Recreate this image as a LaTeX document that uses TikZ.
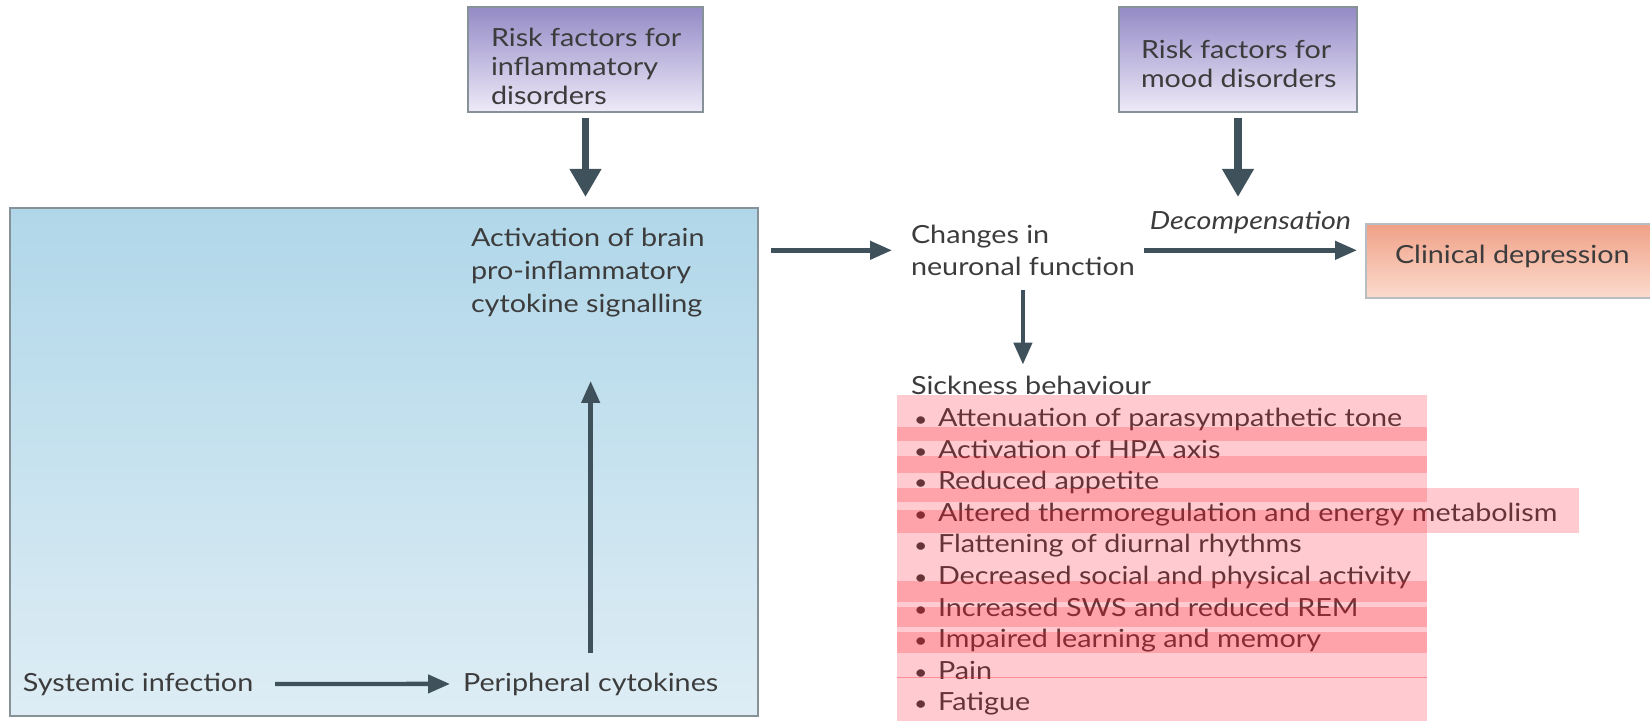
\documentclass[tikz,border=0pt]{standalone}
\usepackage{fontspec}
\setmainfont{Lato}[FakeStretch=1.15]
\usetikzlibrary{arrows.meta}
\definecolor{arrowc}{RGB}{63,82,92}
\definecolor{txt}{RGB}{60,60,60}
\definecolor{bluetop}{RGB}{176,215,233}
\definecolor{bluebot}{RGB}{222,237,245}
\definecolor{purtop}{RGB}{148,138,198}
\definecolor{purbot}{RGB}{238,234,248}
\definecolor{orgtop}{RGB}{240,160,134}
\definecolor{orgbot}{RGB}{251,220,207}
\definecolor{boxline}{RGB}{135,145,152}
\definecolor{hl}{RGB}{255,20,40}
\newcommand{\blt}{\makebox[12pt][l]{\scalebox{0.8}{\textbullet}}}
\begin{document}
\begin{tikzpicture}[x=0.5pt,y=-0.5pt,
  font=\fontsize{12.5}{16}\selectfont, text=txt,
  lbl/.style={inner sep=0pt, outer sep=0pt, anchor=north west, align=left},
  panel/.style={draw=boxline, line width=0.6pt, inner sep=0pt, outer sep=0pt},
  bigarr/.style={draw=arrowc, line width=3.6pt, -{Triangle[width=15pt,length=14pt]}},
  arr/.style={draw=arrowc, line width=2.2pt, -{Triangle[width=9pt,length=11pt]}},
  hlbox/.style={fill=hl, fill opacity=0.22, draw=none}]
\useasboundingbox (0,0) rectangle (1650,721);
% panels
\node (blue) [panel, top color=bluetop, bottom color=bluebot,
  minimum width=374pt, minimum height=254pt] at (384,462) {};
\node (rf1) [panel, top color=purtop, bottom color=purbot,
  minimum width=117.5pt, minimum height=52.5pt] at (585.5,59.5) {};
\node (rf2) [panel, top color=purtop, bottom color=purbot,
  minimum width=119pt, minimum height=52.5pt] at (1238,59.5) {};
\node (clin) [panel, draw=boxline!60, top color=orgtop, bottom color=orgbot,
  minimum width=143pt, minimum height=37pt] at (1509,261) {};
% texts
\node (rf1t) [lbl, font=\fontsize{12.5}{14.5}\selectfont] at (491,28) {Risk factors for\\inflammatory\\disorders};
\node (rf2t) [lbl, font=\fontsize{12.5}{14.5}\selectfont] at (1141,40) {Risk factors for\\mood disorders};
\node (clint) [lbl, anchor=west] at (1395,256) {Clinical depression};
\node (activ) [lbl, font=\fontsize{12.5}{16.5}\selectfont] at (471,228) {Activation of brain\\pro-inflammatory\\cytokine signalling};
\node (sys) [lbl, anchor=base west] at (23,691) {Systemic infection};
\node (periph) [lbl, anchor=base west] at (463,691) {Peripheral cytokines};
\node (changes) [lbl] at (911,225) {Changes in\\neuronal function};
\node (sick) [lbl, anchor=base west] at (911,395) {Sickness behaviour};
\node (list) [lbl, font=\fontsize{12.5}{15.8}\selectfont] at (914,408) {%
\blt Attenuation of parasympathetic tone\\
\blt Activation of HPA axis\\
\blt Reduced appetite\\
\blt Altered thermoregulation and energy metabolism\\
\blt Flattening of diurnal rhythms\\
\blt Decreased social and physical activity\\
\blt Increased SWS and reduced REM\\
\blt Impaired learning and memory\\
\blt Pain\\
\blt Fatigue};
% connectors
\draw[bigarr, shorten <=3pt, shorten >=5.5pt] (rf1.south) -- (rf1.south |- blue.north);
\draw[bigarr, shorten <=3pt, shorten >=5.5pt] (rf2.south) -- (rf2.south |- blue.north);
\draw[arr, shorten <=11pt, shorten >=6.5pt] (sys.east) -- (periph.west);
\draw[arr, shorten <=10pt, shorten >=32pt] (periph.north) -- (periph.north |- activ.south);
\draw[arr, shorten <=6.5pt, shorten >=9.5pt] (changes.west -| blue.east) -- (changes.west);
\draw[arr, shorten <=4.5pt, shorten >=4.5pt] (changes.east) -- (changes.east -| clin.west)
  node[midway, above=7pt, inner sep=0pt, font=\fontsize{12.5}{15}\itshape] (decomp) {Decompensation};
\draw[arr, shorten <=7pt, shorten >=6pt] (changes.south) -- (changes.south |- sick.north);
% highlight overlay
\fill[hlbox] (897,395) rectangle (1427,502);
\fill[hlbox] (897,510) rectangle (1427,721);
\fill[hlbox] (897,488) rectangle (1579,533);
\fill[hlbox] (897,427) rectangle (1427,441);
\fill[hlbox] (897,456) rectangle (1427,473);
\fill[hlbox] (897,581) rectangle (1427,602);
\fill[hlbox] (897,607) rectangle (1427,627);
\fill[hlbox] (897,632) rectangle (1427,653);
\draw[draw=hl, draw opacity=0.35, line width=0.5pt] (897,677) -- (1427,677);
\end{tikzpicture}
\end{document}
